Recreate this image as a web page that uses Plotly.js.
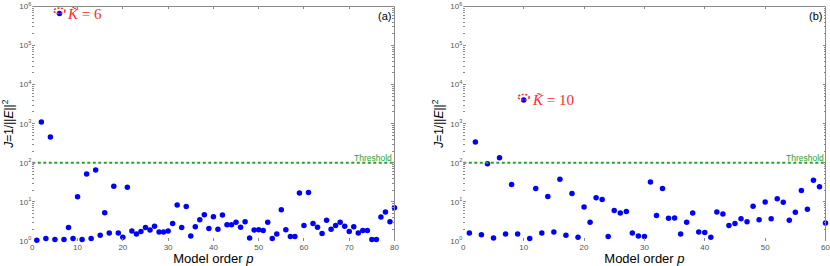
<!DOCTYPE html>
<html>
<head>
<meta charset="utf-8">
<script src="https://cdn.plot.ly/plotly-3.0.1.min.js"></script>
<style>html,body{margin:0;padding:0;background:#fff;}#chart{width:830px;height:266px;}</style>
</head>
<body>
<div id="chart"></div>
<script>
// ---- data ----
const ordersA = Array.from({length: 80}, (_, i) => i + 1);
const valuesA = [1.05, 1100, 1.15, 460, 1.1, 660000, 1.1, 2.2, 1.15, 13.6,
  1.1, 52, 1.15, 66, 1.4, 5.3, 1.6, 25, 1.6, 1.25,
  23.6, 1.8, 1.5, 1.75, 2.2, 1.9, 2.4, 1.7, 1.7, 1.8,
  2.8, 8.3, 2.2, 7.6, 1.35, 2.3, 3.5, 4.7, 2.1, 4.2,
  2.0, 4.6, 2.6, 2.6, 3.0, 2.25, 3.1, 1.2, 1.9, 1.95,
  1.85, 3.0, 1.15, 1.5, 6.3, 1.95, 1.3, 1.3, 17, 2.5,
  17.4, 2.8, 2.25, 1.55, 3.4, 2.0, 2.5, 3.0, 2.4, 1.75,
  2.3, 1.6, 1.85, 1.85, 1.1, 1.1, 4.1, 5.5, 3.1, 7.1];
const ordersB = Array.from({length: 60}, (_, i) => i + 1);
const valuesB = [1.6, 340, 1.45, 95, 1.2, 135, 1.5, 28, 1.5, 4070,
  1.15, 22, 1.6, 13.8, 1.7, 38, 1.4, 16.3, 1.25, 7.4,
  3.0, 12.8, 11.5, 1.3, 6.0, 5.2, 5.7, 1.6, 1.35, 1.3,
  32.5, 4.5, 22, 3.8, 3.9, 1.5, 3.0, 5.2, 1.7, 1.65,
  1.25, 5.5, 4.9, 2.5, 2.8, 3.7, 3.1, 7.8, 3.5, 10,
  3.7, 12, 9.8, 3.4, 5.4, 19.5, 6.5, 35.7, 24.6, 2.9];
const threshold = 100;
const kA = 6, kB = 10;
const panelLabels = ['(a)', '(b)'];
const xMaxA = 80, xMaxB = 60;
const yTickVals = [1, 10, 100, 1000, 10000, 100000, 1000000];
const yTickText = ['10<sup>0</sup>', '10<sup>1</sup>', '10<sup>2</sup>', '10<sup>3</sup>', '10<sup>4</sup>', '10<sup>5</sup>', '10<sup>6</sup>'];

// ---- styling ----
const blue = '#0000ff', green = '#2ca02c', red = '#ff2a2a', frame = '#8a8a8a';
const tickFont = {family: 'Liberation Sans, Arial, sans-serif', size: 8, color: '#555'};

function xAxis(dom, max) {
  return {
    domain: dom, range: [0, max], dtick: 10, tick0: 0,
    ticks: 'inside', ticklen: 3, tickcolor: frame, tickwidth: 1,
    mirror: 'allticks', showline: false, showgrid: false, zeroline: false,
    tickfont: tickFont, ticklabeloverflow: 'allow',
    title: {text: 'Model order <i>p</i>', font: {family: 'Liberation Sans, Arial, sans-serif', size: 13, color: '#000'}, standoff: 2}
  };
}
function yAxis(anchor) {
  return {
    anchor: anchor, domain: [0.0940, 0.9756], type: 'log', range: [0, 6],
    tickmode: 'array', tickvals: yTickVals, ticktext: yTickText,
    ticks: 'inside', ticklen: 3, tickcolor: frame, tickwidth: 1,
    minor: {ticks: 'inside', ticklen: 2, tickcolor: frame, dtick: 'D1', showgrid: false},
    mirror: 'allticks', showline: false, showgrid: false, zeroline: false,
    tickfont: tickFont, ticklabeloverflow: 'allow',
    title: {text: '<i>J</i>=1/||<i>E</i>||<sup>2</sup>', font: {family: 'Liberation Sans, Arial, sans-serif', size: 12, color: '#000'}, standoff: 4}
  };
}

const traces = [
  {x: ordersA, y: valuesA, xaxis: 'x', yaxis: 'y', mode: 'markers', type: 'scatter', cliponaxis: false,
   marker: {color: blue, size: 5.5}, hoverinfo: 'skip'},
  {x: [0, xMaxA], y: [threshold, threshold], xaxis: 'x', yaxis: 'y', mode: 'lines', type: 'scatter',
   line: {color: green, width: 2, dash: '3px,2.5px'}, hoverinfo: 'skip'},
  {x: ordersB, y: valuesB, xaxis: 'x2', yaxis: 'y2', mode: 'markers', type: 'scatter', cliponaxis: false,
   marker: {color: blue, size: 5.5}, hoverinfo: 'skip'},
  {x: [0, xMaxB], y: [threshold, threshold], xaxis: 'x2', yaxis: 'y2', mode: 'lines', type: 'scatter',
   line: {color: green, width: 2, dash: '3px,2.5px'}, hoverinfo: 'skip'}
];

const kValA = valuesA[ordersA.indexOf(kA)];
const kValB = valuesB[ordersB.indexOf(kB)];

function frameShapes(xr, yr) {
  return [
    {type: 'line', xref: xr + ' domain', yref: yr + ' domain', x0: 0, x1: 1, y0: 1, y1: 1, line: {color: frame, width: 1}},
    {type: 'line', xref: xr + ' domain', yref: yr + ' domain', x0: 1, x1: 1, y0: 0, y1: 1, line: {color: frame, width: 1}}
  ];
}
function circleShape(xr, yr, xv, yv) {
  return {type: 'circle', xref: xr, yref: yr, xsizemode: 'pixel', ysizemode: 'pixel',
    xanchor: xv, yanchor: yv, x0: -5.5, x1: 5.5, y0: -5.5, y1: 5.5,
    line: {color: red, width: 1.5, dash: '2px,1.5px'}};
}

const layout = {
  width: 830, height: 266, margin: {l: 0, r: 0, t: 0, b: 0},
  paper_bgcolor: '#fff', plot_bgcolor: '#fff', showlegend: false,
  xaxis: xAxis([0.0389, 0.4753], xMaxA),
  yaxis: yAxis('x'),
  xaxis2: Object.assign(xAxis([0.5582, 0.9946], xMaxB), {anchor: 'y2'}),
  yaxis2: yAxis('x2'),
  shapes: [].concat(frameShapes('x', 'y'), frameShapes('x2', 'y2'),
    [circleShape('x', 'y', kA, kValA), circleShape('x2', 'y2', kB, kValB)]),
  annotations: [
    {xref: 'x domain', yref: 'y domain', x: 0.995, y: 0.995, xanchor: 'right', yanchor: 'top', showarrow: false,
     text: panelLabels[0], font: {family: 'Liberation Sans, Arial, sans-serif', size: 11, color: '#000'}},
    {xref: 'x2 domain', yref: 'y2 domain', x: 0.995, y: 0.995, xanchor: 'right', yanchor: 'top', showarrow: false,
     text: panelLabels[1], font: {family: 'Liberation Sans, Arial, sans-serif', size: 11, color: '#000'}},
    {xref: 'x domain', yref: 'y', x: 1, y: Math.log10(threshold), xanchor: 'right', yanchor: 'bottom', showarrow: false,
     text: 'Threshold', font: {family: 'Liberation Sans, Arial, sans-serif', size: 8.5, color: green}, yshift: -2},
    {xref: 'x2 domain', yref: 'y2', x: 1, y: Math.log10(threshold), xanchor: 'right', yanchor: 'bottom', showarrow: false,
     text: 'Threshold', font: {family: 'Liberation Sans, Arial, sans-serif', size: 8.5, color: green}, yshift: -2},
    {xref: 'x', yref: 'y', x: kA, y: Math.log10(kValA), xanchor: 'left', yanchor: 'middle', xshift: 6, showarrow: false,
     text: '<i>K\u0303</i> = ' + kA, font: {family: 'Liberation Serif, Times New Roman, serif', size: 15, color: red}},
    {xref: 'x2', yref: 'y2', x: kB, y: Math.log10(kValB), xanchor: 'left', yanchor: 'middle', xshift: 6, showarrow: false,
     text: '<i>K\u0303</i> = ' + kB, font: {family: 'Liberation Serif, Times New Roman, serif', size: 15, color: red}}
  ]
};

Plotly.newPlot('chart', traces, layout, {staticPlot: true, displayModeBar: false});
</script>
</body>
</html>
